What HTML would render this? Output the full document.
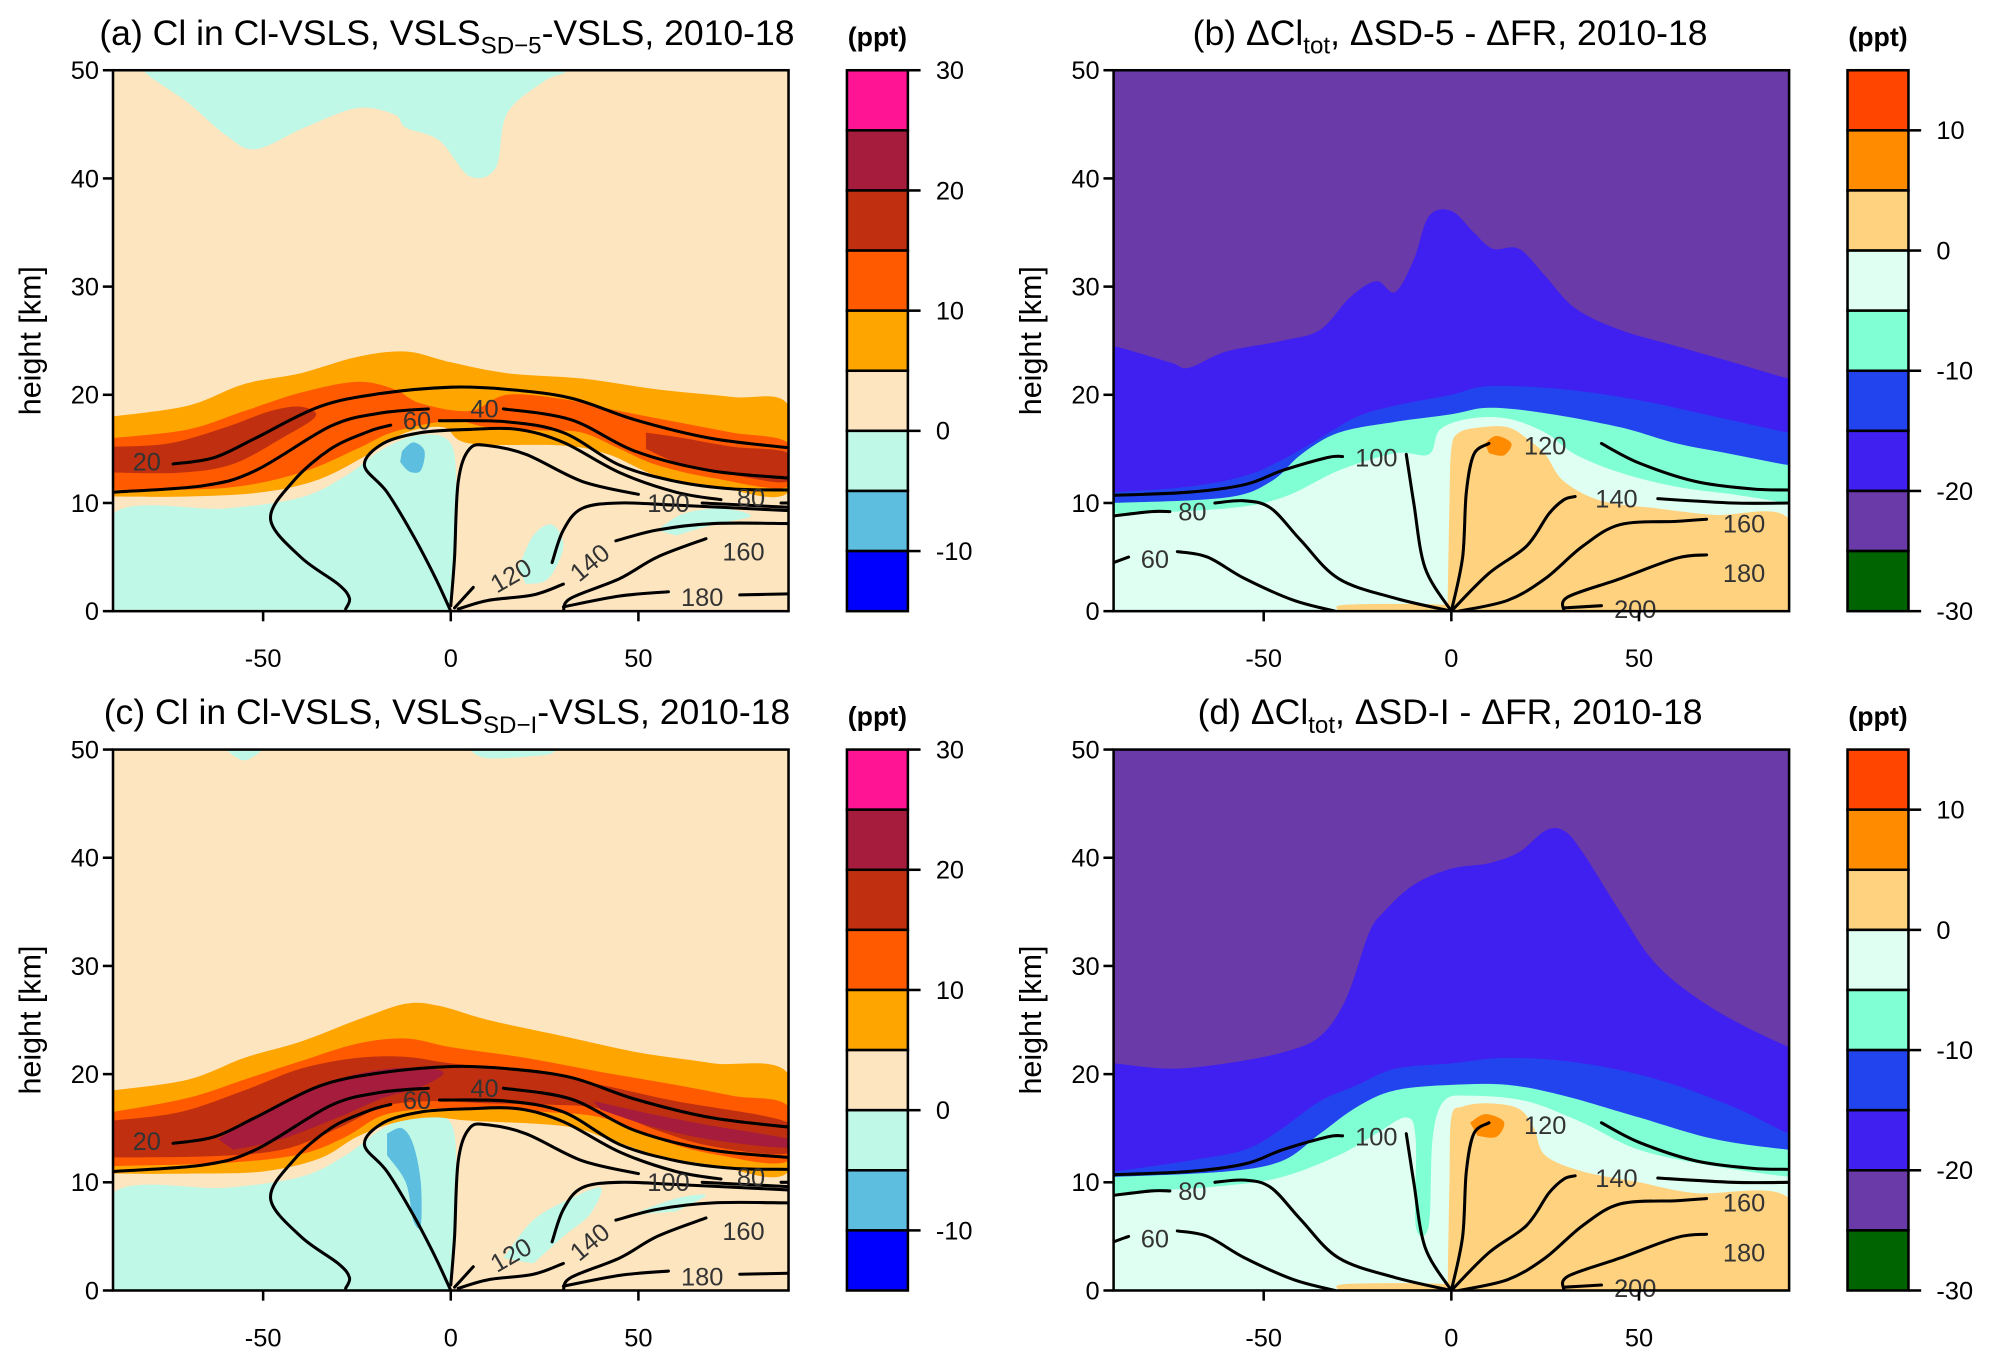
<!DOCTYPE html>
<html><head><meta charset="utf-8"><style>
html,body{margin:0;padding:0;background:#fff;}
svg{display:block;font-family:"Liberation Sans",sans-serif;}
</style></head><body>
<svg id="fig" width="1991" height="1362" viewBox="0 0 1568 1072" xmlns="http://www.w3.org/2000/svg"></svg>
<script>
// ---------- DATA (lat, height km) ----------
const latTicks=[-50,0,50];
const zTicks=[0,10,20,30,40,50];
const cbColorsA=["#FF1493","#A51C3C","#C03010","#FF5A00","#FFA500","#FDE5C0","#BFF8E6","#5EBEDF","#0000FF"];
const cbLabelsA=[30,20,10,0,-10];
const cbColorsB=["#FF4500","#FF8C00","#FFD280","#DFFFF3","#80FFD4","#2244EE","#4020F0","#6A3AA8","#006400"];
const cbLabelsB=[10,0,-10,-20,-30];
// panel a regions
const aMintTop=[[-82,50],[-70,47],[-60,44],[-52,42.7],[-39,44.7],[-25,46.5],[-15,45.9],[-12,44.7],[-3,43.5],[5,40.2],[12,41],[15,46],[25,49],[31,50]];
const aMintLow=[[-90,0],[-90,9],[-60,9.5],[-40,10.5],[-28,12.5],[-18,15],[-8,16.3],[0,15.5],[1.5,11],[1,4],[0,0]];
const aMintPatch1=[[18,4],[22,7],[27,8],[30,6],[26,3],[20,2.5]];
const aMintPatch2=[[55,7.5],[62,9],[72,9.5],[80,8.8],[70,8],[60,7]];
const aOrange=[[-90,18],[-70,19],[-55,21],[-40,22],[-25,23.5],[-12,24],[0,23],[15,22],[35,21.5],[55,20.5],[75,19.8],[90,19],[90,11],[70,11.6],[55,12.5],[42,14.5],[30,15.3],[5,15.5],[-2,17],[-12,16.5],[-22,14.5],[-35,12.2],[-50,11],[-70,10.6],[-90,10.6]];
const aDarkOrange=[[-90,16],[-70,16.8],[-55,18.5],[-40,20.2],[-25,21.2],[-15,20.5],[-8,19.2],[5,18.5],[15,20],[30,19.6],[45,18.5],[60,17.5],[75,16.5],[90,15.5],[90,11.5],[70,12.3],[55,13.5],[45,15],[35,16.5],[25,16.7],[10,17],[0,17.6],[-15,16.6],[-25,15],[-40,12.8],[-60,11.4],[-90,11.2]];
const aRed1=[[-90,15.2],[-75,15.5],[-60,17],[-48,18.5],[-40,18.9],[-36,18],[-45,16],[-58,13.6],[-72,12.8],[-90,12.8]];
const aRed2=[[52,16.5],[62,16],[75,15.2],[90,14.6],[90,12],[75,12.6],[62,13.5],[52,15]];
const aBlue=[[-13,14.8],[-10,15.6],[-7,14.8],[-8,13],[-11,12.9],[-13.5,13.8]];
// panel c regions
const cMintTop1=[[-60,50],[-55,49],[-50,50]];
const cMintTop2=[[5,50],[10,49.2],[25,49.5],[28,50]];
const cMintLow=[[-90,0],[-90,9],[-60,9.5],[-40,10.5],[-28,12.5],[-18,15],[-8,16.3],[0,15.5],[1.5,11],[1,4],[0,0]];
const cMintPatch1=[[14,3],[22,6.5],[32,8.5],[40,9.5],[37,7],[30,5],[22,2.5]];
const cMintPatch2=[[48,7],[60,8.5],[68,8.8],[60,7.3]];
const cOrange=[[-90,18.5],[-70,19.5],[-55,21.5],[-40,23],[-25,25],[-12,26.5],[-3,26.3],[10,25],[30,23.5],[50,22],[70,21],[90,20],[90,11],[70,11.6],[55,12.5],[42,14],[30,15.2],[5,15.7],[-5,16],[-15,15.5],[-25,14.2],[-35,12.2],[-50,11],[-70,10.8],[-90,10.8]];
const cDarkOrange=[[-90,16.5],[-70,17.8],[-55,19.5],[-40,21.2],[-25,22.8],[-12,23.3],[0,22.5],[20,21.5],[40,20.2],[60,19],[75,18],[90,17],[90,12],[70,12.6],[55,14],[40,16],[25,16.5],[10,16.8],[-5,16.8],[-18,16.2],[-28,14.2],[-40,12.6],[-60,11.8],[-90,11.5]];
const cRed=[[-90,15.7],[-72,16.5],[-55,18.5],[-40,20.5],[-25,21.5],[-12,21.6],[0,21],[20,20.3],[40,19],[60,17.5],[90,15.5],[90,12.7],[70,13.3],[55,14.8],[40,16.8],[25,17.2],[10,17.3],[-5,17.5],[-18,17],[-30,15],[-45,13],[-65,12.4],[-90,12.3]];
const cDarkRed=[[-62,14],[-50,16.5],[-38,18.5],[-25,20],[-12,20.6],[-2,20.2],[-8,18.8],[-18,17.8],[-30,16],[-45,14],[-58,13]];
const cDarkRed2=[[38,17.5],[55,16.2],[70,15.2],[90,14],[90,13.2],[72,13.8],[55,15],[40,16.7]];
const cBlue=[[-17,14.5],[-13,15],[-10,13.5],[-8,10],[-8,6],[-10,6.5],[-12,10],[-17,12.5]];
// panels b and d boundaries ("everything below curve")
const bViolet=[[-90,24.5],[-75,23],[-70,22.5],[-60,24],[-45,25],[-35,26],[-27,29],[-20,30.5],[-15,29.5],[-10,32.5],[-6,36.5],[0,37],[6,35],[11,33.5],[18,33.5],[25,31],[33,28],[45,26],[60,24.5],[75,23],[90,21.5]];
const bBlue=[[-90,11],[-70,11.5],[-55,12.5],[-45,14],[-35,16],[-25,18],[-15,19],[0,20],[10,20.8],[30,20.5],[50,19.5],[70,18],[90,16.5]];
const bAqua=[[-90,10],[-60,10.5],[-48,12],[-40,14.5],[-30,16.5],[-15,17.5],[0,18.2],[10,18.8],[25,18.3],[45,17],[60,15.5],[75,14.5],[90,13.5]];
const bLight=[[-90,9],[-60,9.5],[-45,10.5],[-30,13],[-15,14.6],[-6,14.5],[-3,16.8],[5,17.8],[15,17.8],[25,16.5],[33,14.5],[45,12.8],[60,11.5],[75,10.8],[90,10]];
const bLightOrange=[[-1,0],[-0.5,10],[0,15],[2,16.5],[8,17],[15,17],[20,16],[25,14.5],[30,12],[40,10.2],[55,9.5],[70,8.9],[90,8.5],[90,0],[-1,0]];
const bOrangeBlob=[[9,15.5],[12,16.2],[16,15.5],[14,14.4],[10,14.6]];
const bBottomStrip=[[-30,0],[-28,0.6],[-2,0.6],[0,0]];
const dViolet=[[-90,21],[-75,20.5],[-60,21],[-45,22],[-35,23.5],[-28,27],[-22,33],[-18,35],[-10,37.5],[0,39],[10,39.5],[18,40.5],[25,42.5],[30,42.5],[35,40.5],[45,35],[55,30],[70,26],[90,22.5]];
const dBlue=[[-90,11],[-70,12],[-55,13],[-45,15],[-35,17.5],[-25,19],[-15,20.5],[0,21],[15,21.5],[35,21],[55,19.5],[75,17],[90,14.5]];
const dAqua=[[-90,10.5],[-60,11],[-45,12],[-35,14.5],[-25,17],[-15,18.5],[0,19],[15,19],[30,18],[50,16],[70,14],[90,13]];
const dLight=[[-90,9],[-60,9.7],[-45,10.5],[-30,12.5],[-20,14.5],[-12,16],[-9.5,14],[-9.5,6],[-6,6],[-5,14],[-2,17.5],[5,18],[20,17.5],[35,15.5],[50,13],[70,11.5],[90,10.5]];
const dLightOrange=[[-1,0],[-0.5,10],[0,16],[3,17],[10,17.3],[18,16.8],[22,15],[25,12.5],[35,11],[50,10],[65,9],[90,8.5],[90,0],[-1,0]];
const dOrangeBlob=[[5,15.5],[9,16.3],[14,15.6],[12,14.2],[7,14.3]];
// contour lines
const lineA20=[[-74,13.6],[-63,14.2],[-52,16],[-35,18.9],[-19,20.1],[0,20.7],[15,20.5],[32,19.7],[49,17.7],[69,16],[90,15.1]];
const lineA40a=[[-90,11],[-66,11.6],[-52,13],[-32,17.1],[-19,18.3],[-6,18.7]];
const lineA40b=[[14,18.7],[32,17.7],[49,14.8],[69,13],[90,12.3]];
const lineA60a=[[-28,0.2],[-27,1.2],[-30,2.5],[-40,5],[-48,8.5],[-42,12],[-32,15],[-22,16.6],[-16,17.2]];
const lineA60b=[[-3,17.6],[15,17.5],[30,16.5],[45,13.5],[60,12],[75,11.3],[90,11.2]];
const lineA80=[[0,0],[-4,3],[-10,7],[-17,11],[-23,13.5],[-18,15.5],[-8,16.5],[5,16.8],[18,16.8],[30,15.6],[45,12.8],[60,11],[72,10.3]];
const lineA80b=[[88,10],[90,10]];
const lineA100=[[0,0.5],[1,5],[2,12],[5,15],[10,15.3],[20,14.5],[35,12],[50,10.8]];
const lineA100b=[[67,10],[90,9.6]];
const lineA120=[[1,0.3],[6,2.2]];
const lineA120b=[[27,4.5],[30,7.5],[35,9.5],[45,10],[60,9.8],[90,9.3]];
const lineA140=[[2,0.2],[10,1],[22,1.5],[30,2.5]];
const lineA140b=[[44,6.5],[55,7.5],[70,8.1],[90,8.1]];
const lineA160=[[30,0],[32,1.2],[45,3],[55,5],[68,6.7]];
const lineA180=[[30,0.4],[45,1.4],[58,1.8]];
const lineA180b=[[77,1.5],[90,1.6]];
const lineB100=[[-90,10.7],[-70,11],[-55,11.7],[-45,13],[-33,14.2],[-29,14.3]];
const lineB80a=[[-90,8.8],[-80,9.2],[-75,9.2]];
const lineB80b=[[-63,10],[-55,10.2],[-48,9.5],[-40,6.5],[-30,3],[-15,1.2],[0,0]];
const lineB60a=[[-90,4.5],[-86,5]];
const lineB60b=[[-73,5.5],[-65,5],[-55,3],[-42,1],[-31,0]];
const lineBv=[[-12,14.5],[-10,10],[-7,4],[0,0]];
const lineB120a=[[0,0],[3,5],[4,11],[6,14.5],[10,15.5]];
const lineB120b=[[40,15.5],[50,13.7],[65,12],[80,11.3],[90,11.2]];
const lineB140=[[0,0],[10,3.5],[20,6],[26,9],[30,10.3],[33,10.6]];
const lineB140b=[[55,10.4],[75,10],[90,10]];
const lineB160=[[2,0],[15,1],[25,3],[35,6],[45,8],[60,8.3],[68,8.5]];
const lineB180=[[30,0],[31,1.3],[45,3],[60,4.9],[68,5.2]];
const lineB200=[[30,0.3],[40,0.5]];
</script>
<script>
const NS="http://www.w3.org/2000/svg";
const svg=document.getElementById('fig');
function el(tag,attrs,parent){const e=document.createElementNS(NS,tag);for(const k in attrs)e.setAttribute(k,attrs[k]);(parent||svg).appendChild(e);return e;}
function makePanel(x0,y0){return{x0:x0,y0:y0,w:532,h:426,X:function(lat){return this.x0+(lat+90)/180*this.w;},Y:function(z){return this.y0+this.h-z/50*this.h;}};}
function pathD(P,pts,closed){
 const p=pts.map(q=>[P.X(q[0]),P.Y(q[1])]);const n=p.length;
 let d='M'+p[0][0].toFixed(1)+','+p[0][1].toFixed(1);
 for(let i=0;i<n-1;i++){const p0=p[i>0?i-1:i],p1=p[i],p2=p[i+1],p3=p[i+2<n?i+2:i+1];
  const c1=[p1[0]+(p2[0]-p0[0])/6,p1[1]+(p2[1]-p0[1])/6],c2=[p2[0]-(p3[0]-p1[0])/6,p2[1]-(p3[1]-p1[1])/6];
  d+='C'+c1[0].toFixed(1)+','+c1[1].toFixed(1)+' '+c2[0].toFixed(1)+','+c2[1].toFixed(1)+' '+p2[0].toFixed(1)+','+p2[1].toFixed(1);}
 return d+(closed?'Z':'');}
function below(P,pts){return [[-95,-2],[-95,pts[0][1]]].concat(pts).concat([[95,pts[pts.length-1][1]],[95,-2]]);}
function region(P,g,pts,color,name){const e=el('path',{d:pathD(P,pts,true),fill:color},g);

}
function line(P,g,pts,name){const e=el('path',{d:pathD(P,pts,false),fill:'none',stroke:'#000','stroke-width':2.4,'stroke-linejoin':'round','stroke-linecap':'round'},g);

}
function lab(P,g,lat,z,t,rot){const e=el('text',{x:P.X(lat),y:P.Y(z)+7,'font-size':20,fill:'#333','text-anchor':'middle',transform:rot?`rotate(${rot} ${P.X(lat)} ${P.Y(z)})`:''},g);e.textContent=t;

}
function axes(P,g,title,titleSub,titleEnd,tx){
 el('rect',{x:P.x0,y:P.y0,width:P.w,height:P.h,fill:'none',stroke:'#000','stroke-width':2},g);
 zTicks.forEach(z=>{el('line',{x1:P.x0-8,x2:P.x0,y1:P.Y(z),y2:P.Y(z),stroke:'#000','stroke-width':2},g);
  const t=el('text',{x:P.x0-11,y:P.Y(z)+7,'font-size':20,'text-anchor':'end'},g);t.textContent=z;
  
  });
 latTicks.forEach(l=>{el('line',{x1:P.X(l),x2:P.X(l),y1:P.y0+P.h,y2:P.y0+P.h+8,stroke:'#000','stroke-width':2},g);
  const t=el('text',{x:P.X(l),y:P.y0+P.h+44,'font-size':20,'text-anchor':'middle'},g);t.textContent=l;
  
  });
 const yl=el('text',{x:0,y:0,'font-size':24,'text-anchor':'middle',transform:`translate(${P.x0-57},${P.y0+P.h/2}) rotate(-90)`},g);yl.textContent='height [km]';
 
 
 const tt=el('text',{x:tx,y:P.y0-20,'font-size':28,'text-anchor':'middle'},g);
 
 
 tt.innerHTML=title+(titleSub?`<tspan font-size="19" dy="7">${titleSub}</tspan><tspan dy="-7">${titleEnd}</tspan>`:'');
}
function colorbar(x,y0,colors,labels,isA,g){
 const bh=426/9;
 colors.forEach((c,i)=>{const r=el('rect',{x:x,y:y0+i*bh,width:48,height:bh,fill:c,stroke:'#000','stroke-width':2},g);
  
  });
 labels.forEach((v,i)=>{const idx=isA?i*2:1+i*2;const yy=y0+idx*bh;
  el('line',{x1:x+48,x2:x+58,y1:yy,y2:yy,stroke:'#000','stroke-width':2},g);
  const t=el('text',{x:x+70,y:yy+7,'font-size':20},g);t.textContent=v;
  
  });
 const u=el('text',{x:x+24,y:y0-19,'font-size':21,'font-weight':'bold','text-anchor':'middle'},g);u.textContent='(ppt)';
 
 
}
function panelAC(P,g,which){
 const clip='clip'+which;
 const cp=el('clipPath',{id:clip},g);el('rect',{x:P.x0,y:P.y0,width:P.w,height:P.h},cp);
 const f=el('g',{'clip-path':`url(#${clip})`},g);
 el('rect',{x:P.x0,y:P.y0,width:P.w,height:P.h,fill:'#FDE5C0'},f);
 if(which==='a'){
  region(P,f,[[-82,52]].concat(aMintTop).concat([[31,52]]),'#BFF8E6','mint-top-region');
  region(P,f,aMintLow,'#BFF8E6','mint-low-region');
  region(P,f,aMintPatch1,'#BFF8E6','mint-patch');region(P,f,aMintPatch2,'#BFF8E6','mint-patch');
  region(P,f,aOrange,'#FFA500','orange-band');region(P,f,aDarkOrange,'#FF5A00','darkorange-band');
  region(P,f,aRed1,'#C03010','red-band');region(P,f,aRed2,'#C03010','red-band');
  region(P,f,aBlue,'#5EBEDF','blue-patch');
 } else {
  region(P,f,cMintTop1,'#BFF8E6','mint-top-region');region(P,f,cMintTop2,'#BFF8E6','mint-top-region');
  region(P,f,cMintLow,'#BFF8E6','mint-low-region');
  region(P,f,cMintPatch1,'#BFF8E6','mint-patch');region(P,f,cMintPatch2,'#BFF8E6','mint-patch');
  region(P,f,cOrange,'#FFA500','orange-band');region(P,f,cDarkOrange,'#FF5A00','darkorange-band');
  region(P,f,cRed,'#C03010','red-band');region(P,f,cDarkRed,'#A51C3C','darkred-band');region(P,f,cDarkRed2,'#A51C3C','darkred-band');
  region(P,f,cBlue,'#5EBEDF','blue-patch');
 }
 [lineA20,lineA40a,lineA40b,lineA60a,lineA60b,lineA80,lineA80b,lineA100,lineA100b,lineA120,lineA120b,lineA140,lineA140b,lineA160,lineA180,lineA180b].forEach(l=>line(P,f,l,'contour-line'));
 lab(P,g,-81,13.8,'20');lab(P,g,9,18.7,'40');lab(P,g,-9,17.6,'60');lab(P,g,80,10.5,'80');lab(P,g,58,10,'100');
 lab(P,g,16,3.3,'120',-30);lab(P,g,37,4.5,'140',-40);lab(P,g,78,5.5,'160');lab(P,g,67,1.3,'180');
}
function panelBD(P,g,which){
 const clip='clip'+which;
 const cp=el('clipPath',{id:clip},g);el('rect',{x:P.x0,y:P.y0,width:P.w,height:P.h},cp);
 const f=el('g',{'clip-path':`url(#${clip})`},g);
 el('rect',{x:P.x0,y:P.y0,width:P.w,height:P.h,fill:'#6A3AA8'},f);
 const V=which==='b'?bViolet:dViolet,B=which==='b'?bBlue:dBlue,A=which==='b'?bAqua:dAqua,L=which==='b'?bLight:dLight;
 region(P,f,below(P,V),'#4020F0','violet-region');
 region(P,f,below(P,B),'#2244EE','blue-region');
 region(P,f,below(P,A),'#80FFD4','aqua-region');
 region(P,f,below(P,L),'#DFFFF3','lightmint-region');
 region(P,f,which==='b'?bLightOrange:dLightOrange,'#FFD280','lightorange-region');
 region(P,f,bBottomStrip,'#FFD280','lightorange-strip');
 region(P,f,which==='b'?bOrangeBlob:dOrangeBlob,'#FF8C00','orange-blob');
 [lineB100,lineB80a,lineB80b,lineB60a,lineB60b,lineBv,lineB120a,lineB120b,lineB140,lineB140b,lineB160,lineB180,lineB200].forEach(l=>line(P,f,l,'contour-line'));
 lab(P,g,-20,14.2,'100');lab(P,g,-69,9.2,'80');lab(P,g,-79,4.8,'60');lab(P,g,25,15.3,'120');lab(P,g,44,10.4,'140');
 lab(P,g,78,8.1,'160');lab(P,g,78,3.5,'180');lab(P,g,49,0.2,'200');
}
const panels=[{id:'a',x:89,y:55,cb:667,t:'(a) Cl in Cl-VSLS, VSLS',s:'SD−5',e:'-VSLS, 2010-18',tx:352},
 {id:'b',x:877,y:55,cb:1455,t:'(b) ΔCl<tspan font-size="19" dy="7">tot</tspan><tspan dy="-7">, ΔSD-5 - ΔFR, 2010-18</tspan>',s:'',e:'',tx:1142},
 {id:'c',x:89,y:590,cb:667,t:'(c) Cl in Cl-VSLS, VSLS',s:'SD−I',e:'-VSLS, 2010-18',tx:352},
 {id:'d',x:877,y:590,cb:1455,t:'(d) ΔCl<tspan font-size="19" dy="7">tot</tspan><tspan dy="-7">, ΔSD-I - ΔFR, 2010-18</tspan>',s:'',e:'',tx:1142}];
panels.forEach(p=>{
 const g=el('g',{});
 
 
 const P=makePanel(p.x,p.y);
 const isA=(p.id==='a'||p.id==='c');
 if(isA)panelAC(P,g,p.id);else panelBD(P,g,p.id);
 axes(P,g,p.t,p.s,p.e,p.tx);
 colorbar(p.cb,p.y,isA?cbColorsA:cbColorsB,isA?cbLabelsA:cbLabelsB,isA,g);
});
</script>
</body></html>
